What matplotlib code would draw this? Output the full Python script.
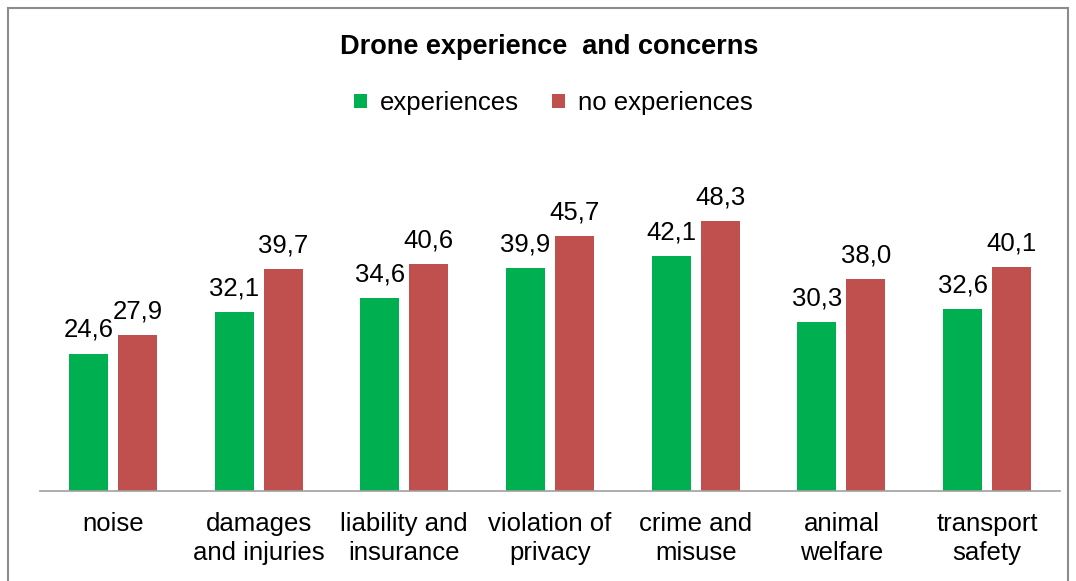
import numpy as np
import matplotlib.pyplot as plt
from matplotlib.patches import Rectangle

categories = ['noise', 'damages\nand injuries', 'liability and\ninsurance',
              'violation of\nprivacy', 'crime and\nmisuse', 'animal\nwelfare',
              'transport\nsafety']
experiences = [24.6, 32.1, 34.6, 39.9, 42.1, 30.3, 32.6]
no_experiences = [27.9, 39.7, 40.6, 45.7, 48.3, 38.0, 40.1]

plt.rcParams['font.family'] = ['Liberation Sans', 'DejaVu Sans']

W, H = 1076, 581
fig = plt.figure(figsize=(W / 100, H / 100), dpi=100)
ax = fig.add_axes([40 / W, (H - 491) / H, 1020 / W, 335 / H])

x = np.arange(len(categories))
bw = 0.267
off = 0.168
b1 = ax.bar(x - off, experiences, bw, color='#00B050', label='experiences')
b2 = ax.bar(x + off, no_experiences, bw, color='#C0504D', label='no experiences')

for bars, vals in ((b1, experiences), (b2, no_experiences)):
    for b, v in zip(bars, vals):
        ax.annotate(f'{v:.1f}'.replace('.', ','), (b.get_x() + b.get_width() / 2, v),
                    xytext=(0, 12), textcoords='offset points',
                    ha='center', va='baseline', fontsize=18.5)

ax.set_xlim(-0.5, len(categories) - 0.5)
ax.set_ylim(0, 60)
ax.set_yticks([])
ax.set_xticks(x)
ax.set_xticklabels(categories, fontsize=18.5, linespacing=1.26)
ax.tick_params(axis='x', length=0, pad=15)
for s in ('top', 'left', 'right'):
    ax.spines[s].set_visible(False)
ax.spines['bottom'].set_color('#a0a0a0')
ax.spines['bottom'].set_linewidth(1.2)

fig.text(549 / W, 1 - 47 / H, 'Drone experience  and concerns', ha='center', va='center',
         fontsize=19.5, fontweight='bold')
fig.legend(loc='center', bbox_to_anchor=(553 / W, 1 - 103 / H), ncol=2, frameon=False,
           fontsize=18.5, handlelength=0.5, handleheight=0.5, handletextpad=0.5,
           columnspacing=1.3)

fig.patches.append(Rectangle((8 / W, -0.02), 1060 / W, (H - 8) / H + 0.02,
                             transform=fig.transFigure, fill=False,
                             edgecolor='#8c8c8c', linewidth=1.5))

fig.savefig('out.png', dpi=100)
